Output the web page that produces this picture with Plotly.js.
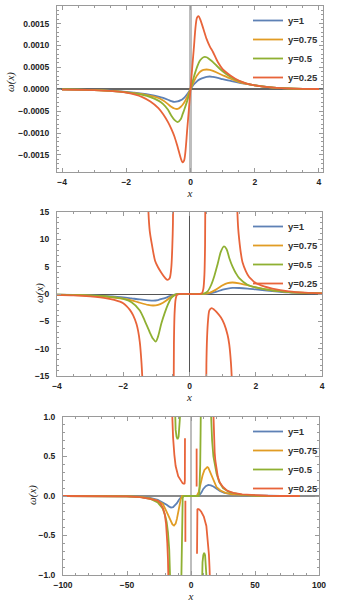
<!DOCTYPE html>
<html><head><meta charset="utf-8">
<script src="https://cdn.plot.ly/plotly-3.0.1.min.js"></script>
<style>html,body{margin:0;padding:0;background:#fff}#chart{width:354px;height:613px}</style>
</head><body><div id="chart"></div>
<script>
// ---------- series labels ----------
const seriesNames = ['y=1', 'y=0.75', 'y=0.5', 'y=0.25'];
const xTitle = '<i>x</i>';
const yTitle = '<i>ω</i>(<i>x</i>)';

// ---------- panel 1 (x in [-4,4]) ----------
const p1X = [-4,-3.5,-3,-2.5,-2,-1.75,-1.5,-1.25,-1,-0.85,-0.7,-0.6,-0.5,-0.4,-0.3,-0.25,-0.2,-0.1,0,0.1,0.2,0.25,0.3,0.4,0.5,0.6,0.7,0.85,1,1.25,1.5,1.75,2,2.5,3,3.5,4];
const p1Y1 = [-0.000005,-0.00001,-0.00002,-0.00003,-0.00006,-0.00008,-0.0001,-0.00013,-0.00017,-0.0002,-0.00024,-0.00027,-0.00029,-0.00028,-0.00025,-0.00023,-0.0002,-0.00011,0,0.00011,0.00018,0.00021,0.00023,0.00026,0.00028,0.00029,0.00028,0.00026,0.00023,0.00019,0.00015,0.00012,0.00009,0.00004,0.00002,0.00001,0.000005];
const p1Y075 = [-0.000005,-0.00001,-0.00002,-0.00004,-0.00007,-0.00009,-0.00011,-0.00015,-0.0002,-0.00026,-0.00034,-0.0004,-0.00044,-0.00045,-0.0004,-0.00036,-0.00031,-0.00017,0,0.00017,0.00031,0.00036,0.0004,0.00044,0.00045,0.00044,0.00042,0.00037,0.00032,0.00024,0.00017,0.00012,0.00009,0.00004,0.00002,0.00001,0.000005];
const p1Y05 = [-0.000005,-0.00001,-0.00002,-0.00004,-0.00007,-0.0001,-0.00013,-0.00018,-0.00026,-0.00034,-0.00047,-0.0006,-0.0007,-0.00075,-0.00068,-0.00058,-0.00048,-0.00026,0,0.00027,0.0005,0.00059,0.00066,0.00073,0.00073,0.00068,0.00062,0.00051,0.00041,0.00028,0.00019,0.00013,0.00009,0.00004,0.00002,0.00001,0.000005];
const p1Y025 = [-0.00001,-0.000015,-0.00002,-0.00004,-0.00008,-0.00012,-0.00018,-0.00028,-0.00043,-0.00057,-0.00075,-0.0009,-0.00108,-0.00132,-0.00158,-0.00167,-0.00163,-0.0009,0,0.0009,0.00163,0.00167,0.0016,0.00138,0.00115,0.00098,0.00085,0.00062,0.00046,0.00031,0.0002,0.00013,0.00009,0.00004,0.00002,0.00001,0.000005];

// ---------- panel 2 (x in [-4,4], y in [-15,15]) ----------
const p2X1 = [-4,-3.5,-3,-2.5,-2,-1.75,-1.5,-1.25,-1.1,-0.95,-0.8,-0.7,-0.6,-0.5,-0.4,-0.35,0,0.35,0.45,0.6,0.8,1,1.15,1.3,1.5,1.75,2,2.5,3,3.5,4];
const p2Y1  = [-0.12,-0.17,-0.25,-0.4,-0.6,-0.8,-1.0,-1.15,-1.2,-1.1,-0.85,-0.65,-0.4,-0.2,-0.05,0,0,0,0.02,0.1,0.4,0.8,1.0,1.12,1.1,1.0,0.85,0.55,0.3,0.17,0.1];
const p2X075 = p2X1;
const p2Y075 = [-0.12,-0.18,-0.3,-0.5,-0.85,-1.15,-1.6,-2.0,-2.1,-2.0,-1.6,-1.2,-0.7,-0.3,-0.05,0,0,0,0.03,0.2,0.8,1.6,2.0,2.1,1.95,1.6,1.2,0.65,0.35,0.2,0.1];
const p2X05 = [-4,-3.5,-3,-2.5,-2,-1.75,-1.5,-1.35,-1.2,-1.1,-1.02,-0.95,-0.85,-0.75,-0.65,-0.55,-0.45,-0.35,0,0.35,0.45,0.55,0.65,0.75,0.85,0.95,1.04,1.12,1.2,1.3,1.4,1.5,1.75,2,2.5,3,3.5,4];
const p2Y05 = [-0.1,-0.15,-0.25,-0.45,-0.9,-1.5,-3.0,-4.9,-7.0,-8.2,-8.7,-7.8,-5.4,-3.5,-1.9,-0.7,-0.2,0,0,0,0.1,0.5,1.6,3.3,5.5,7.8,8.7,8.2,6.6,5.0,3.8,2.9,1.7,1.2,0.65,0.35,0.2,0.1];
const p2X025 = [-4,-3.5,-3,-2.5,-2.1,-2,-1.9,-1.8,-1.7,-1.6,-1.55,-1.5,-1.45,-1.42,-1.4,null,
  -1.27,-1.24,-1.2,-1.14,-1.04,-0.95,-0.85,-0.75,-0.67,-0.6,-0.55,-0.52,-0.5,-0.49,null,
  -0.48,-0.47,-0.45,-0.42,-0.38,-0.3,0,0.3,0.38,0.42,0.45,0.47,0.48,null,
  0.5,0.51,0.53,0.56,0.6,0.67,0.75,0.82,0.95,1.05,1.15,1.2,1.25,1.28,1.3,null,
  1.42,1.44,1.47,1.5,1.55,1.6,1.7,1.8,1.9,2,2.25,2.5,3,3.5,4];
const p2Y025 = [-0.15,-0.25,-0.45,-0.8,-1.4,-1.7,-2.2,-2.9,-3.9,-5.5,-6.8,-8.8,-12.5,-16,-22,null,
  22,15,11.5,9.2,6.1,4.9,3.9,3.05,2.6,2.9,4.8,8.5,13,20,null,
  -20,-9,-3.5,-1.0,-0.15,0,0,0,0.15,1.0,3.5,9,20,null,
  -22,-13,-8,-4.8,-3.0,-2.6,-2.9,-3.3,-4.3,-5.5,-7.5,-9.2,-12.5,-16,-22,null,
  22,16,12,10,7.5,5.8,4.2,3.1,2.5,2.0,1.4,1.0,0.5,0.25,0.12];

// ---------- panel 3 (x in [-100,100], y in [-1,1]) ----------
const p3X1 = [-100,-75,-50,-40,-32,-26,-22,-19,-17,-15.6,-14,-12.5,-11,-9.5,-8,-7,0,5,6.5,8,9.6,11.5,13.5,15.5,17.5,20,22.6,26,30,35,40,50,60,70,85];
const p3Y1 = [0,0,-0.005,-0.01,-0.025,-0.05,-0.08,-0.11,-0.135,-0.146,-0.14,-0.12,-0.09,-0.05,-0.015,0,0,0,0.01,0.04,0.09,0.125,0.14,0.135,0.12,0.09,0.065,0.04,0.025,0.015,0.01,0.005,0,0,0];
const p3X075 = [-100,-75,-50,-40,-32,-26,-22,-19,-16.5,-14.5,-13.3,-12,-11,-10,-9,-8,-7,0,4.5,6,7.5,9,10.5,12,12.7,13.5,15,16.5,18,20,23,27,32,40,50,60,70,85];
const p3Y075 = [0,0,-0.005,-0.01,-0.03,-0.06,-0.1,-0.2,-0.3,-0.36,-0.375,-0.35,-0.29,-0.2,-0.11,-0.04,0,0,0,0.05,0.16,0.26,0.33,0.36,0.367,0.36,0.3,0.23,0.17,0.11,0.07,0.04,0.02,0.01,0.005,0,0,0];
const p3X05 = [-100,-75,-50,-40,-32,-26,-22,-20,-19,-18,-17,-16.4,-16,null,
  -12.8,-12.5,-12,-11.3,-10.5,-9.7,-9,-8.6,-8.4,null,
  -7.8,-7.5,-7.2,-6.9,-6.5,-6,0,6,6.5,6.9,7.2,7.5,7.8,null,
  8.4,8.6,9,9.6,10.3,11,11.6,12,12.2,null,
  15,15.5,16.5,17.5,19,20,22,25,30,35,40,50,60,70,85];
const p3Y05 = [0,0,-0.005,-0.012,-0.035,-0.08,-0.16,-0.26,-0.33,-0.46,-0.68,-1.0,-1.3,null,
  1.3,1.0,0.84,0.75,0.72,0.75,0.86,1.0,1.3,null,
  -1.3,-0.8,-0.4,-0.15,-0.03,0,0,0,0.03,0.15,0.4,0.8,1.3,null,
  -1.3,-1.0,-0.84,-0.75,-0.72,-0.75,-0.86,-1.0,-1.3,null,
  1.3,1.0,0.7,0.5,0.35,0.28,0.18,0.1,0.05,0.03,0.015,0.005,0,0,0];
const p3X025 = [-100,-75,-50,-40,-32,-26,-24,-22,-20.5,-19.5,-19,-18.5,-18,-17.6,null,
  -15.3,-15,-14.5,-14,-13,-12,-10,-8,-6.5,-5.5,-5,-4.8,-4.75,-4.7,null,
  -4.4,-4.4,null,
  4.4,4.4,null,
  4.7,4.75,4.8,5,5.5,6.5,8,10,12,13,14,14.5,15,15.3,null,
  17,17.4,18,18.5,19,20,21,22.5,25,28,33,40,50,60,70,85];
const p3Y025 = [0,0,-0.005,-0.015,-0.035,-0.06,-0.09,-0.15,-0.23,-0.35,-0.45,-0.6,-0.8,-1.1,null,
  1.3,1.1,0.92,0.74,0.52,0.38,0.25,0.19,0.16,0.155,0.16,0.2,0.4,0.73,null,
  -0.06,-0.58,null,
  0.6,0.12,null,
  -0.73,-0.4,-0.2,-0.17,-0.165,-0.17,-0.2,-0.26,-0.38,-0.52,-0.74,-0.92,-1.1,-1.3,null,
  1.3,1.0,0.7,0.55,0.45,0.32,0.24,0.17,0.115,0.07,0.04,0.02,0.008,0.003,0,0];

// ---------- styling ----------
const colors = ['#5E81B5', '#E19C24', '#8FB032', '#E8643A'];
const W = 354, H = 613;
const frame = '#9a9a9a';
const tickFont = {family: 'Liberation Sans, Arial, sans-serif', size: 8.5, color: '#222', weight: 700};
const titleFont = {family: 'Liberation Serif, Times New Roman, serif', size: 11, color: '#222', style: 'italic'};

function mk(x, y, i, xa, ya, lg, shape) {
  return {x: x, y: y, type: 'scatter', mode: 'lines', name: seriesNames[i],
    xaxis: xa, yaxis: ya, legend: lg, connectgaps: false,
    line: {color: colors[i], width: 1.8, shape: shape, smoothing: 0.8}};
}

const data = [
  mk(p1X, p1Y1, 0, 'x', 'y', 'legend', 'spline'),
  mk(p1X, p1Y075, 1, 'x', 'y', 'legend', 'spline'),
  mk(p1X, p1Y05, 2, 'x', 'y', 'legend', 'spline'),
  mk(p1X, p1Y025, 3, 'x', 'y', 'legend', 'spline'),
  mk(p2X1, p2Y1, 0, 'x2', 'y2', 'legend2', 'spline'),
  mk(p2X075, p2Y075, 1, 'x2', 'y2', 'legend2', 'spline'),
  mk(p2X05, p2Y05, 2, 'x2', 'y2', 'legend2', 'spline'),
  mk(p2X025, p2Y025, 3, 'x2', 'y2', 'legend2', 'spline'),
  mk(p3X1, p3Y1, 0, 'x3', 'y3', 'legend3', 'linear'),
  mk(p3X075, p3Y075, 1, 'x3', 'y3', 'legend3', 'linear'),
  mk(p3X05, p3Y05, 2, 'x3', 'y3', 'legend3', 'linear'),
  mk(p3X025, p3Y025, 3, 'x3', 'y3', 'legend3', 'linear')
];

function xax(l, r, range, dtick, minor, anchor, zc, zw) {
  return {domain: [l / W, r / W], range: range, anchor: anchor, dtick: dtick, tick0: 0,
    ticks: 'inside', ticklen: 4, tickwidth: 1, tickcolor: frame,
    minor: {dtick: minor, ticks: 'inside', ticklen: 2, tickcolor: frame, showgrid: false},
    showline: true, linecolor: frame, linewidth: 1, mirror: 'ticks',
    showgrid: false, zeroline: true, zerolinecolor: zc, zerolinewidth: zw,
    tickfont: tickFont, ticklabelstandoff: 2, automargin: false,
    title: {text: xTitle, font: titleFont, standoff: 3}};
}
function yax(t, b, range, dtick, minor, fmt, anchor, zc, zw) {
  return {domain: [(H - b) / H, (H - t) / H], range: range, anchor: anchor, dtick: dtick, tick0: 0,
    tickformat: fmt,
    ticks: 'inside', ticklen: 4, tickwidth: 1, tickcolor: frame,
    minor: {dtick: minor, ticks: 'inside', ticklen: 2, tickcolor: frame, showgrid: false},
    showline: true, linecolor: frame, linewidth: 1, mirror: 'ticks',
    showgrid: false, zeroline: true, zerolinecolor: zc, zerolinewidth: zw,
    tickfont: tickFont, ticklabelstandoff: 5, automargin: false};
}
function leg(top) {
  return {x: 248 / W, xanchor: 'left', y: (H - top) / H, yanchor: 'top',
    bgcolor: 'rgba(255,255,255,0)', borderwidth: 0,
    font: {family: 'Liberation Sans, Arial, sans-serif', size: 9.5, color: '#333', weight: 700},
    itemwidth: 30, tracegroupgap: 0};
}
function ytitle(xpx, ypx) {
  return {text: yTitle, xref: 'paper', yref: 'paper', x: xpx / W, y: (H - ypx) / H,
    xanchor: 'center', yanchor: 'middle', textangle: -90, showarrow: false, font: titleFont};
}

const layout = {
  width: W, height: H, margin: {l: 0, r: 0, t: 0, b: 0},
  paper_bgcolor: '#fff', plot_bgcolor: '#fff', showlegend: true,
  xaxis: xax(57, 323, [-4.156, 4.125], 2, 0.5, 'y', '#bdbdbd', 2.5),
  yaxis: yax(6, 172, [-0.00189, 0.0019], 0.0005, 0.0001, '.4f', 'x', '#666', 1.8),
  xaxis2: xax(57, 322, [-4, 4], 2, 0.5, 'y2', '#555', 1),
  yaxis2: yax(212, 376, [-15, 15], 5, 1, 'd', 'x2', '#555', 1),
  xaxis3: xax(63, 319, [-100, 100], 50, 10, 'y3', '#bdbdbd', 2.5),
  yaxis3: yax(417, 575, [-1, 1], 0.5, 0.1, '.1f', 'x3', '#8a8a8a', 1.5),
  legend: leg(6),
  legend2: leg(212),
  legend3: leg(417),
  annotations: [ytitle(11, 82), ytitle(39, 293), ytitle(32, 495)]
};

Plotly.newPlot('chart', data, layout, {staticPlot: true, displayModeBar: false});
</script></body></html>
